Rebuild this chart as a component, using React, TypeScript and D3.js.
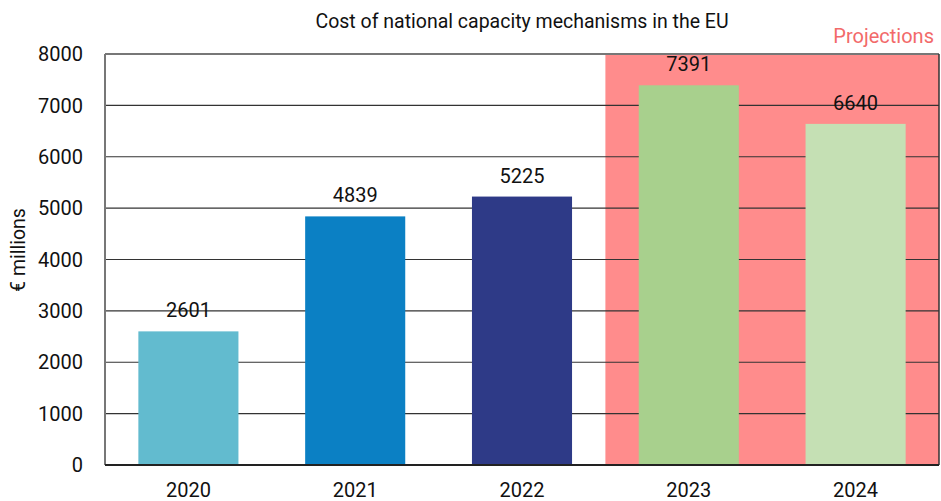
import React from "react";
import * as d3 from "d3";

const categories = ["2020", "2021", "2022", "2023", "2024"];
const values = [2601, 4839, 5225, 7391, 6640];
const barColors = ["#62bbcf", "#0b80c4", "#2e3a87", "#a8d08d", "#c5e0b4"];
const yTicks = [0, 1000, 2000, 3000, 4000, 5000, 6000, 7000, 8000];
const projectionStart = "2023";

const W = 941, H = 501;
const M = { left: 105, right: 2, top: 54, bottom: 36 };
const FONT = "Roboto, 'DejaVu Sans', sans-serif";

export default function App() {
  const x = d3.scaleBand().domain(categories).range([M.left, W - M.right]).paddingInner(0.4).paddingOuter(0.2);
  const y = d3.scaleLinear().domain([0, 8000]).range([H - M.bottom, M.top]);
  const step = x.step();
  const projX = (x(projectionStart) as number) - step * 0.2;
  return (
    <svg width={W} height={H} style={{ position: "absolute", left: 0, top: 0, background: "#fff" }}>
      <text x={522} y={28} textAnchor="middle" fontFamily={FONT} fontSize={19.5} fill="#111">
        Cost of national capacity mechanisms in the EU
      </text>
      <rect x={projX} y={y(8000)} width={W - M.right - projX} height={y(0) - y(8000)} fill="#ff8c8c" />
      <text x={934} y={43} textAnchor="end" fontFamily={FONT} fontSize={20} fill="#f26a6a">
        Projections
      </text>
      {yTicks.map((t) => (
        <g key={t}>
          <line x1={M.left} x2={W - M.right} y1={y(t)} y2={y(t)} stroke={t === 8000 ? "#777" : "#333"} strokeWidth={t === 8000 ? 2 : 1.2} />
          <text x={83} y={y(t)} dy="0.36em" textAnchor="end" fontFamily={FONT} fontSize={20} fill="#111">
            {t}
          </text>
        </g>
      ))}
      {categories.map((c, i) => (
        <g key={c}>
          <rect x={x(c)} y={y(values[i])} width={x.bandwidth()} height={y(0) - y(values[i])} fill={barColors[i]} />
          <text x={(x(c) as number) + x.bandwidth() / 2} y={y(values[i]) - 14} textAnchor="middle" fontFamily={FONT} fontSize={20} fill="#111">
            {values[i]}
          </text>
          <text x={(x(c) as number) + x.bandwidth() / 2} y={497} textAnchor="middle" fontFamily={FONT} fontSize={20} fill="#111">
            {c}
          </text>
        </g>
      ))}
      <line x1={M.left} x2={M.left} y1={M.top} y2={y(0)} stroke="#777" strokeWidth={2} />
      <line x1={W - M.right} x2={W - M.right} y1={M.top} y2={y(0)} stroke="#333" strokeWidth={1.5} />
      <line x1={M.left} x2={W - M.right} y1={y(0)} y2={y(0)} stroke="#222" strokeWidth={2} />
      <text transform={`translate(25,250) rotate(-90)`} textAnchor="middle" fontFamily={FONT} fontSize={19.5} fill="#111">
        € millions
      </text>
    </svg>
  );
}
